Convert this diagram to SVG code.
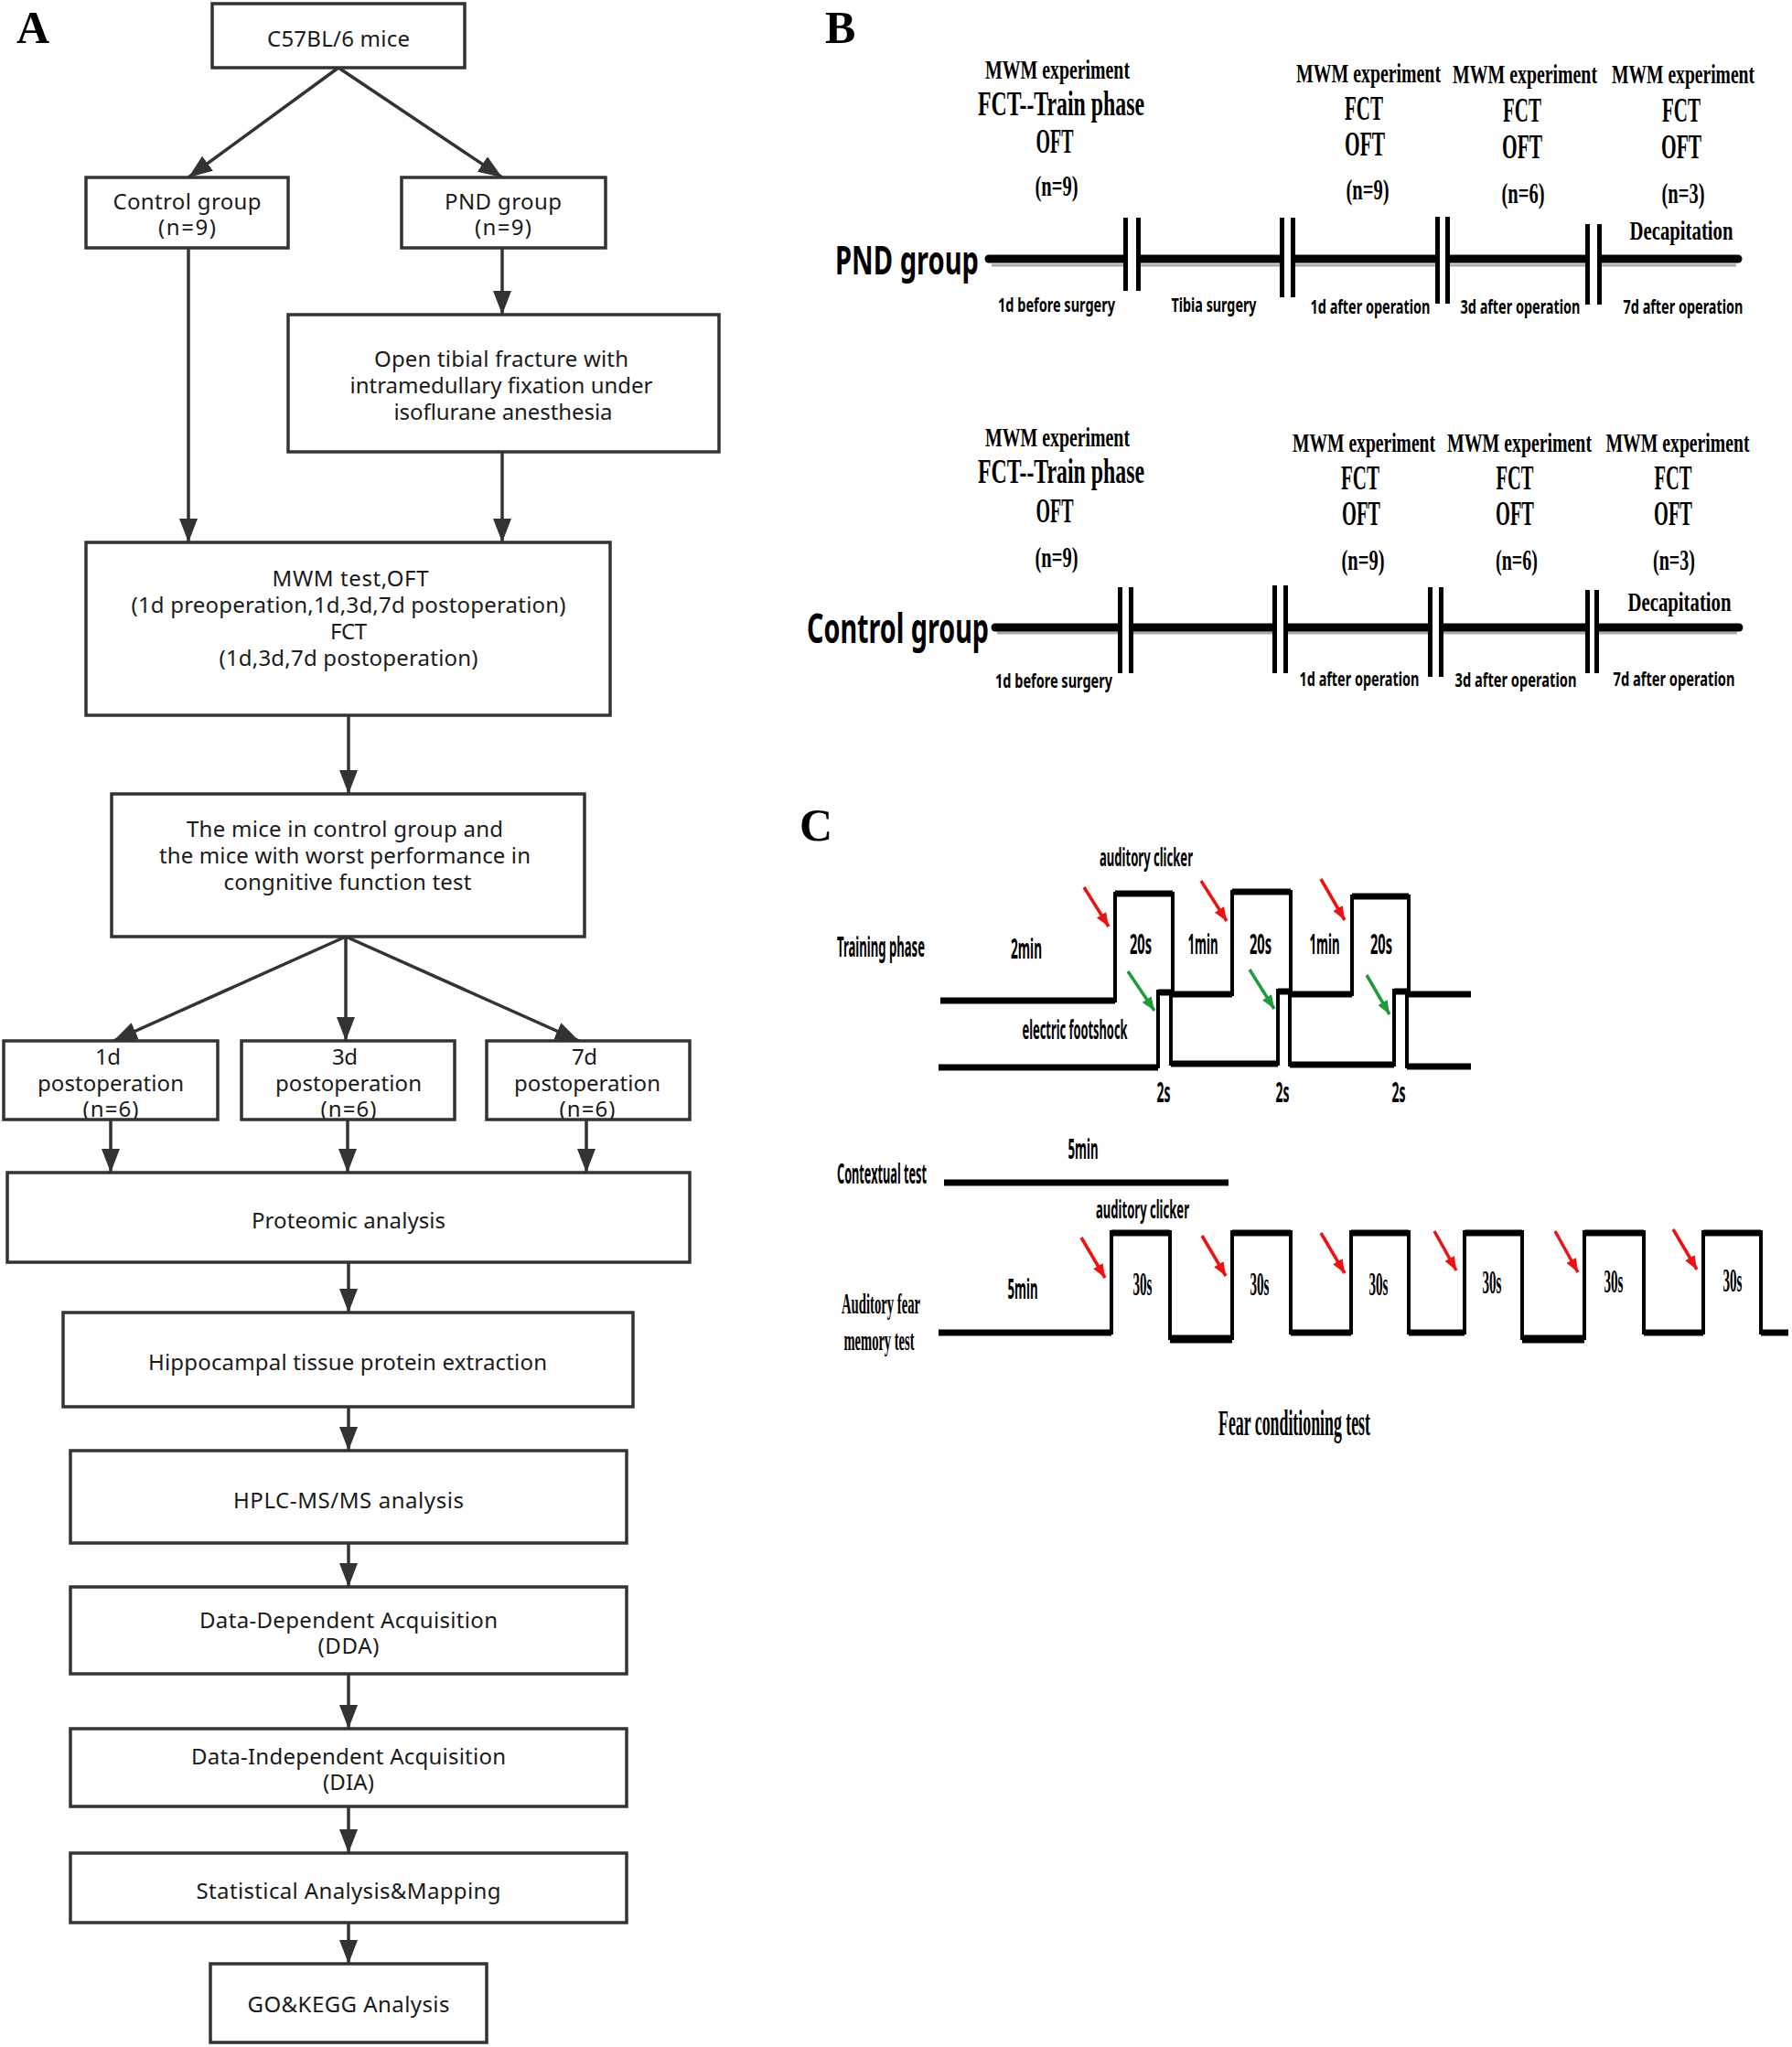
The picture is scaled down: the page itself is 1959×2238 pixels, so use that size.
<svg xmlns="http://www.w3.org/2000/svg" width="1959" height="2238" viewBox="0 0 1959 2238">
<defs>
<style>
.box{fill:#fff;stroke:#333;stroke-width:3.5}
.ta{font-family:"Noto Sans","Open Sans",sans-serif;font-size:24px;fill:#1a1a1a;text-anchor:middle}
.conn{stroke:#333;stroke-width:3.5;fill:none;marker-end:url(#ah)}
.panel{font-family:"Liberation Serif","Times New Roman",serif;font-weight:bold;font-size:50px;fill:#000}
.ser{font-family:"Liberation Serif","Times New Roman",serif;font-weight:bold;fill:#000;text-anchor:middle}
.sans{font-family:"Noto Sans","Liberation Sans",sans-serif;font-weight:bold;fill:#000;text-anchor:middle}
.st{text-anchor:start}
.tl{stroke:#000;stroke-width:9;stroke-linecap:round;fill:none}
.sh{stroke:#aaa;stroke-width:3;fill:none}
.bar{fill:#000}
.gap{fill:#fff}
.sig{stroke:#000;stroke-width:4;fill:none;stroke-linejoin:miter}
.sigh{stroke:#000;stroke-width:7;fill:none}
.red{stroke:#ee1111;stroke-width:3.5;fill:none;marker-end:url(#ar)}
.grn{stroke:#1f9a3c;stroke-width:3.5;fill:none;marker-end:url(#ag)}
</style>
<marker id="ah" markerUnits="userSpaceOnUse" markerWidth="26" markerHeight="20" viewBox="0 0 26 20" refX="26" refY="10" orient="auto"><path d="M0,0 L26,10 L0,20 z" fill="#333"/></marker>
<marker id="ar" markerUnits="userSpaceOnUse" markerWidth="15" markerHeight="12" viewBox="0 0 15 12" refX="15" refY="6" orient="auto"><path d="M0,0 L15,6 L0,12 z" fill="#ee1111"/></marker>
<marker id="ag" markerUnits="userSpaceOnUse" markerWidth="15" markerHeight="12" viewBox="0 0 15 12" refX="15" refY="6" orient="auto"><path d="M0,0 L15,6 L0,12 z" fill="#1f9a3c"/></marker>
</defs>
<rect width="1959" height="2238" fill="#fff"/>

<!-- Panel A -->
<text class="panel" x="18" y="47">A</text>
<g id="connectors">
<path class="conn" d="M370,74 L206,194"/>
<path class="conn" d="M370,74 L549,194"/>
<path class="conn" d="M206,271 L206,593"/>
<path class="conn" d="M549,271 L549,344"/>
<path class="conn" d="M549,494 L549,593"/>
<path class="conn" d="M381,782 L381,868"/>
<path class="conn" d="M378,1024 L124,1138"/>
<path class="conn" d="M378,1024 L378,1138"/>
<path class="conn" d="M378,1024 L633,1138"/>
<path class="conn" d="M121,1224 L121,1282"/>
<path class="conn" d="M380,1224 L380,1282"/>
<path class="conn" d="M641,1224 L641,1282"/>
<path class="conn" d="M381,1380 L381,1435"/>
<path class="conn" d="M381,1538 L381,1586"/>
<path class="conn" d="M381,1687 L381,1735"/>
<path class="conn" d="M381,1830 L381,1890"/>
<path class="conn" d="M381,1975 L381,2026"/>
<path class="conn" d="M381,2102 L381,2147"/>
</g>
<g id="n-mice"><rect class="box" x="232" y="4" width="276" height="70"/><text class="ta" x="370" y="51" textLength="156">C57BL/6 mice</text></g>
<g id="n-control"><rect class="box" x="94" y="194" width="221" height="77"/><text class="ta" x="204.5" y="229" textLength="162">Control group</text><text class="ta" x="204.5" y="257" textLength="63">(n=9)</text></g>
<g id="n-pnd"><rect class="box" x="439" y="194" width="223" height="77"/><text class="ta" x="550" y="229" textLength="128">PND group</text><text class="ta" x="550" y="257" textLength="62">(n=9)</text></g>
<g id="n-fracture"><rect class="box" x="315" y="344" width="471" height="150"/><text class="ta" x="548" y="401" textLength="278">Open tibial fracture with</text><text class="ta" x="548" y="430" textLength="331">intramedullary fixation under</text><text class="ta" x="550" y="459" textLength="239">isoflurane anesthesia</text></g>
<g id="n-tests"><rect class="box" x="94" y="593" width="573" height="189"/><text class="ta" x="383" y="641" textLength="171">MWM test,OFT</text><text class="ta" x="381" y="670" textLength="475">(1d preoperation,1d,3d,7d postoperation)</text><text class="ta" x="381" y="699" textLength="40">FCT</text><text class="ta" x="381" y="728" textLength="283">(1d,3d,7d postoperation)</text></g>
<g id="n-select"><rect class="box" x="122" y="868" width="517" height="156"/><text class="ta" x="377" y="915" textLength="346">The mice in control group and</text><text class="ta" x="377" y="944" textLength="406">the mice with worst performance in</text><text class="ta" x="380" y="973" textLength="271">congnitive function test</text></g>
<g id="n-1d"><text class="ta" x="118" y="1164" textLength="28">1d</text><text class="ta" x="121" y="1193" textLength="160">postoperation</text><text class="ta" x="121" y="1221" textLength="61">(n=6)</text><rect class="box" x="4" y="1138" width="234" height="86" style="fill:none"/></g>
<g id="n-3d"><text class="ta" x="377" y="1164" textLength="28">3d</text><text class="ta" x="381" y="1193" textLength="160">postoperation</text><text class="ta" x="381" y="1221" textLength="61">(n=6)</text><rect class="box" x="264" y="1138" width="233" height="86" style="fill:none"/></g>
<g id="n-7d"><text class="ta" x="639" y="1164" textLength="28">7d</text><text class="ta" x="642" y="1193" textLength="160">postoperation</text><text class="ta" x="642" y="1221" textLength="61">(n=6)</text><rect class="box" x="532" y="1138" width="222" height="86" style="fill:none"/></g>
<g id="n-proteomic"><rect class="box" x="8" y="1282" width="746" height="98"/><text class="ta" x="381" y="1343" textLength="212">Proteomic analysis</text></g>
<g id="n-extract"><rect class="box" x="69" y="1435" width="623" height="103"/><text class="ta" x="380" y="1498" textLength="436">Hippocampal tissue protein extraction</text></g>
<g id="n-hplc"><rect class="box" x="77" y="1586" width="608" height="101"/><text class="ta" x="381" y="1649" textLength="252">HPLC-MS/MS analysis</text></g>
<g id="n-dda"><rect class="box" x="77" y="1735" width="608" height="95"/><text class="ta" x="381" y="1780" textLength="326">Data-Dependent Acquisition</text><text class="ta" x="381" y="1808" textLength="67">(DDA)</text></g>
<g id="n-dia"><rect class="box" x="77" y="1890" width="608" height="85"/><text class="ta" x="381" y="1929" textLength="344">Data-Independent Acquisition</text><text class="ta" x="381" y="1957" textLength="56">(DIA)</text></g>
<g id="n-stat"><rect class="box" x="77" y="2026" width="608" height="76"/><text class="ta" x="381" y="2076" textLength="333">Statistical Analysis&amp;Mapping</text></g>
<g id="n-go"><rect class="box" x="230" y="2147" width="302" height="86"/><text class="ta" x="381" y="2200" textLength="221">GO&amp;KEGG Analysis</text></g>

<!-- Panel B -->
<text class="panel" x="902" y="47">B</text>
<g id="b-pnd">
<text class="sans st" x="913" y="300" font-size="43" textLength="157" lengthAdjust="spacingAndGlyphs">PND group</text>
<line class="sh" x1="1084" y1="290" x2="1898" y2="290"/>
<line class="tl" x1="1081" y1="283" x2="1900" y2="283"/>
<rect class="gap" x="1233" y="274" width="9" height="20"/><rect class="bar" x="1228" y="238" width="5" height="80"/><rect class="bar" x="1242" y="238" width="5" height="80"/>
<rect class="gap" x="1404" y="274" width="7" height="20"/><rect class="bar" x="1399" y="238" width="5" height="87"/><rect class="bar" x="1411" y="238" width="5" height="87"/>
<rect class="gap" x="1574" y="274" width="6" height="20"/><rect class="bar" x="1569" y="237" width="5" height="95"/><rect class="bar" x="1580" y="237" width="5" height="95"/>
<rect class="gap" x="1738" y="274" width="8" height="20"/><rect class="bar" x="1733" y="245" width="5" height="88"/><rect class="bar" x="1746" y="245" width="5" height="88"/>
<g class="ser">
<text x="1156" y="86" font-size="29" textLength="158" lengthAdjust="spacingAndGlyphs">MWM experiment</text>
<text x="1160" y="126" font-size="37" textLength="182" lengthAdjust="spacingAndGlyphs">FCT--Train phase</text>
<text x="1153" y="167" font-size="37" textLength="41" lengthAdjust="spacingAndGlyphs">OFT</text>
<text x="1155" y="214" font-size="32" textLength="47" lengthAdjust="spacingAndGlyphs">(n=9)</text>
<text x="1496" y="90" font-size="29" textLength="158" lengthAdjust="spacingAndGlyphs">MWM experiment</text>
<text x="1491" y="131" font-size="37" textLength="42" lengthAdjust="spacingAndGlyphs">FCT</text>
<text x="1492" y="170" font-size="37" textLength="44" lengthAdjust="spacingAndGlyphs">OFT</text>
<text x="1495" y="218" font-size="32" textLength="47" lengthAdjust="spacingAndGlyphs">(n=9)</text>
<text x="1667" y="91" font-size="29" textLength="158" lengthAdjust="spacingAndGlyphs">MWM experiment</text>
<text x="1664" y="133" font-size="37" textLength="42" lengthAdjust="spacingAndGlyphs">FCT</text>
<text x="1664" y="173" font-size="37" textLength="44" lengthAdjust="spacingAndGlyphs">OFT</text>
<text x="1665" y="222" font-size="32" textLength="47" lengthAdjust="spacingAndGlyphs">(n=6)</text>
<text x="1840" y="91" font-size="29" textLength="156" lengthAdjust="spacingAndGlyphs">MWM experiment</text>
<text x="1838" y="133" font-size="37" textLength="42" lengthAdjust="spacingAndGlyphs">FCT</text>
<text x="1838" y="173" font-size="37" textLength="44" lengthAdjust="spacingAndGlyphs">OFT</text>
<text x="1840" y="222" font-size="32" textLength="47" lengthAdjust="spacingAndGlyphs">(n=3)</text>
<text x="1838" y="262" font-size="29" textLength="113" lengthAdjust="spacingAndGlyphs">Decapitation</text>
</g>
<g class="sans" font-size="22">
<text x="1155" y="341" textLength="128" lengthAdjust="spacingAndGlyphs">1d before surgery</text>
<text x="1327" y="341" textLength="93" lengthAdjust="spacingAndGlyphs">Tibia surgery</text>
<text x="1498" y="343" textLength="131" lengthAdjust="spacingAndGlyphs">1d after operation</text>
<text x="1662" y="343" textLength="131" lengthAdjust="spacingAndGlyphs">3d after operation</text>
<text x="1840" y="343" textLength="131" lengthAdjust="spacingAndGlyphs">7d after operation</text>
</g>
</g>

<g id="b-control">
<text class="sans st" x="882" y="703" font-size="44" textLength="199" lengthAdjust="spacingAndGlyphs">Control group</text>
<line class="sh" x1="1090" y1="692" x2="1899" y2="692"/>
<line class="tl" x1="1088" y1="686" x2="1901" y2="686"/>
<rect class="gap" x="1227" y="677" width="7" height="20"/><rect class="bar" x="1222" y="642" width="5" height="94"/><rect class="bar" x="1234" y="642" width="5" height="94"/>
<rect class="gap" x="1396" y="677" width="7" height="20"/><rect class="bar" x="1391" y="640" width="5" height="96"/><rect class="bar" x="1403" y="640" width="5" height="96"/>
<rect class="gap" x="1566" y="677" width="7" height="20"/><rect class="bar" x="1561" y="642" width="5" height="98"/><rect class="bar" x="1573" y="642" width="5" height="98"/>
<rect class="gap" x="1738" y="677" width="5" height="20"/><rect class="bar" x="1733" y="645" width="5" height="91"/><rect class="bar" x="1743" y="645" width="5" height="91"/>
<g class="ser">
<text x="1156" y="488" font-size="29" textLength="158" lengthAdjust="spacingAndGlyphs">MWM experiment</text>
<text x="1160" y="528" font-size="37" textLength="182" lengthAdjust="spacingAndGlyphs">FCT--Train phase</text>
<text x="1153" y="571" font-size="37" textLength="41" lengthAdjust="spacingAndGlyphs">OFT</text>
<text x="1155" y="620" font-size="32" textLength="47" lengthAdjust="spacingAndGlyphs">(n=9)</text>
<text x="1491" y="494" font-size="29" textLength="156" lengthAdjust="spacingAndGlyphs">MWM experiment</text>
<text x="1487" y="535" font-size="37" textLength="42" lengthAdjust="spacingAndGlyphs">FCT</text>
<text x="1488" y="574" font-size="37" textLength="42" lengthAdjust="spacingAndGlyphs">OFT</text>
<text x="1490" y="623" font-size="32" textLength="47" lengthAdjust="spacingAndGlyphs">(n=9)</text>
<text x="1661" y="494" font-size="29" textLength="158" lengthAdjust="spacingAndGlyphs">MWM experiment</text>
<text x="1656" y="535" font-size="37" textLength="41" lengthAdjust="spacingAndGlyphs">FCT</text>
<text x="1656" y="574" font-size="37" textLength="42" lengthAdjust="spacingAndGlyphs">OFT</text>
<text x="1658" y="623" font-size="32" textLength="46" lengthAdjust="spacingAndGlyphs">(n=6)</text>
<text x="1834" y="494" font-size="29" textLength="157" lengthAdjust="spacingAndGlyphs">MWM experiment</text>
<text x="1829" y="535" font-size="37" textLength="41" lengthAdjust="spacingAndGlyphs">FCT</text>
<text x="1829" y="574" font-size="37" textLength="42" lengthAdjust="spacingAndGlyphs">OFT</text>
<text x="1830" y="623" font-size="32" textLength="46" lengthAdjust="spacingAndGlyphs">(n=3)</text>
<text x="1836" y="668" font-size="29" textLength="113" lengthAdjust="spacingAndGlyphs">Decapitation</text>
</g>
<g class="sans" font-size="22">
<text x="1152" y="752" textLength="128" lengthAdjust="spacingAndGlyphs">1d before surgery</text>
<text x="1486" y="750" textLength="131" lengthAdjust="spacingAndGlyphs">1d after operation</text>
<text x="1657" y="751" textLength="133" lengthAdjust="spacingAndGlyphs">3d after operation</text>
<text x="1830" y="750" textLength="133" lengthAdjust="spacingAndGlyphs">7d after operation</text>
</g>
</g>

<!-- Panel C -->
<text class="panel" x="874" y="919">C</text>
<g id="c-training">
<path class="sig" d="M1028,1094 H1219 V977 H1282 V1087 H1347 V975 H1411 V1087 H1478 V980 H1540 V1087 H1608"/>
<path class="sigh" d="M1028,1094 H1219 M1219,977 H1282 M1282,1087 H1347 M1347,975 H1411 M1411,1087 H1478 M1478,980 H1540 M1540,1087 H1608"/>
<path class="sig" d="M1026,1166 H1266 V1084 H1280 V1163 H1397 V1083 H1410 V1164 H1524 V1083 H1538 V1166 H1608"/>
<path class="sigh" d="M1026,1167 H1266 M1266,1085 H1280 M1280,1163 H1397 M1397,1084 H1410 M1410,1164 H1524 M1524,1084 H1538 M1538,1166 H1608"/>
<line class="red" x1="1185" y1="970" x2="1212" y2="1013"/>
<line class="red" x1="1313" y1="963" x2="1341" y2="1007"/>
<line class="red" x1="1444" y1="961" x2="1470" y2="1006"/>
<line class="grn" x1="1233" y1="1062" x2="1262" y2="1105"/>
<line class="grn" x1="1366" y1="1060" x2="1393" y2="1103"/>
<line class="grn" x1="1494" y1="1066" x2="1519" y2="1109"/>
<g class="sans">
<text class="st" x="915" y="1046" font-size="31" textLength="96" lengthAdjust="spacingAndGlyphs">Training phase</text>
<text class="st" x="1105" y="1048" font-size="30" textLength="34" lengthAdjust="spacingAndGlyphs">2min</text>
<text x="1253" y="947" font-size="26" textLength="102" lengthAdjust="spacingAndGlyphs">auditory clicker</text>
<text x="1247" y="1043" font-size="31" textLength="24" lengthAdjust="spacingAndGlyphs">20s</text>
<text x="1378" y="1043" font-size="31" textLength="24" lengthAdjust="spacingAndGlyphs">20s</text>
<text x="1510" y="1043" font-size="31" textLength="24" lengthAdjust="spacingAndGlyphs">20s</text>
<text x="1315" y="1043" font-size="31" textLength="33" lengthAdjust="spacingAndGlyphs">1min</text>
<text x="1448" y="1043" font-size="31" textLength="33" lengthAdjust="spacingAndGlyphs">1min</text>
<text x="1175" y="1136" font-size="28" textLength="115" lengthAdjust="spacingAndGlyphs">electric footshock</text>
<text x="1272" y="1205" font-size="31" textLength="15" lengthAdjust="spacingAndGlyphs">2s</text>
<text x="1402" y="1205" font-size="31" textLength="15" lengthAdjust="spacingAndGlyphs">2s</text>
<text x="1529" y="1205" font-size="31" textLength="15" lengthAdjust="spacingAndGlyphs">2s</text>
</g>
</g>
<g id="c-contextual">
<line class="sigh" x1="1032" y1="1293" x2="1343" y2="1293"/>
<g class="sans">
<text x="964" y="1294" font-size="31" textLength="98" lengthAdjust="spacingAndGlyphs">Contextual test</text>
<text x="1184" y="1267" font-size="31" textLength="33" lengthAdjust="spacingAndGlyphs">5min</text>
</g>
</g>
<g id="c-auditory">
<path class="sig" d="M1026,1457 H1215 V1347 H1279 V1463 H1347 V1347 H1411 V1457 H1477 V1347 H1540 V1457 H1601 V1347 H1664 V1463 H1732 V1347 H1797 V1457 H1862 V1347 H1925 V1457 H1955"/>
<path class="sigh" d="M1026,1457 H1215 M1215,1348 H1279 M1347,1348 H1411 M1411,1457 H1477 M1477,1348 H1540 M1540,1457 H1601 M1601,1348 H1664 M1732,1348 H1797 M1797,1457 H1862 M1862,1348 H1925 M1925,1457 H1955"/>
<path d="M1279,1464 H1347 M1664,1464 H1732" stroke="#000" stroke-width="9" fill="none"/>
<line class="red" x1="1182" y1="1353" x2="1208" y2="1397"/>
<line class="red" x1="1314" y1="1351" x2="1340" y2="1395"/>
<line class="red" x1="1444" y1="1348" x2="1470" y2="1392"/>
<line class="red" x1="1568" y1="1346" x2="1592" y2="1389"/>
<line class="red" x1="1700" y1="1346" x2="1725" y2="1391"/>
<line class="red" x1="1829" y1="1344" x2="1855" y2="1388"/>
<g class="sans">
<text x="1249" y="1332" font-size="26" textLength="102" lengthAdjust="spacingAndGlyphs">auditory clicker</text>
<text x="1118" y="1420" font-size="31" textLength="33" lengthAdjust="spacingAndGlyphs">5min</text>
</g>
<g class="ser">
<text x="1249" y="1416" font-size="35" textLength="21" lengthAdjust="spacingAndGlyphs">30s</text>
<text x="1377" y="1416" font-size="35" textLength="21" lengthAdjust="spacingAndGlyphs">30s</text>
<text x="1507" y="1416" font-size="35" textLength="21" lengthAdjust="spacingAndGlyphs">30s</text>
<text x="1631" y="1414" font-size="35" textLength="21" lengthAdjust="spacingAndGlyphs">30s</text>
<text x="1764" y="1413" font-size="35" textLength="21" lengthAdjust="spacingAndGlyphs">30s</text>
<text x="1894" y="1412" font-size="35" textLength="21" lengthAdjust="spacingAndGlyphs">30s</text>
<text x="963" y="1436" font-size="31" textLength="86" lengthAdjust="spacingAndGlyphs">Auditory fear</text>
<text x="961" y="1476" font-size="31" textLength="77" lengthAdjust="spacingAndGlyphs">memory test</text>
<text x="1415" y="1569" font-size="41" textLength="166" lengthAdjust="spacingAndGlyphs">Fear conditioning test</text>
</g>
</g>
</svg>
